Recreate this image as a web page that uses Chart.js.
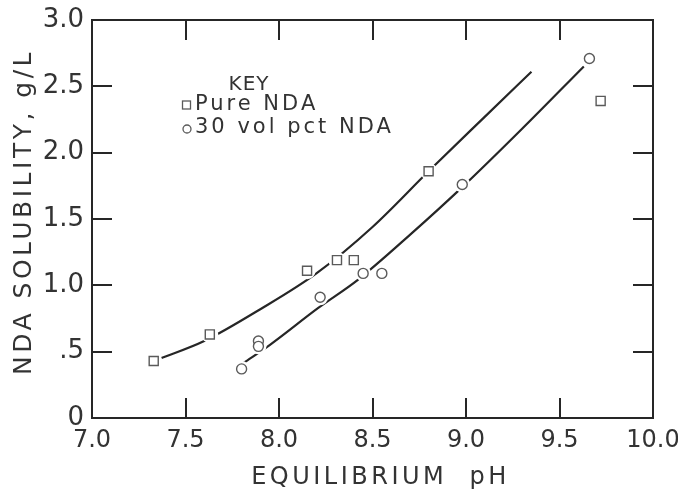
<!DOCTYPE html>
<html>
<head>
<meta charset="utf-8">
<script src="https://cdn.jsdelivr.net/npm/chart.js@4/dist/chart.umd.min.js"></script>
<style>
  html, body { margin: 0; padding: 0; background: #ffffff; }
  #wrap { width: 678px; height: 492px; }
</style>
</head>
<body>
<div id="wrap"><canvas id="c" width="678" height="492"></canvas></div>
<script>
// ---- data ----
const xTickLabels = ['7.0', '7.5', '8.0', '8.5', '9.0', '9.5', '10.0'];
const yTickLabels = ['0', '.5', '1.0', '1.5', '2.0', '2.5', '3.0'];

const pureX = [7.33, 7.63, 8.15, 8.31, 8.40, 8.80, 9.72];
const pureY = [0.43, 0.63, 1.11, 1.19, 1.19, 1.86, 2.39];

const vol30X = [7.80, 7.89, 7.89, 8.22, 8.45, 8.55, 8.98, 9.66];
const vol30Y = [0.37, 0.58, 0.54, 0.91, 1.09, 1.09, 1.76, 2.71];

const pureCurveX = [7.36, 7.60, 7.90, 8.20, 8.50, 8.80, 9.10, 9.35];
const pureCurveY = [0.445, 0.58, 0.82, 1.09, 1.44, 1.86, 2.27, 2.61];

const vol30CurveX = [7.81, 7.95, 8.21, 8.42, 8.70, 8.98, 9.30, 9.63];
const vol30CurveY = [0.415, 0.55, 0.83, 1.04, 1.38, 1.74, 2.18, 2.65];

const legendTitle = 'KEY';
const seriesNames = ['Pure NDA', '30 vol pct NDA'];
const xTitle = 'EQUILIBRIUM  pH';
const yTitle = 'NDA SOLUBILITY, g/L';

// ---- helpers ----
const pts = (xs, ys) => xs.map((x, i) => ({ x: x, y: ys[i] }));
const FONT = '"DejaVu Sans", "Liberation Sans", sans-serif';
const INK = '#262626';
const MARK = '#5a5a5a';

function spacedTitle(scale, spacing, dx, dy) {
  if (!scale._spacedTitle) {
    const orig = Chart.Scale.prototype.drawTitle;
    scale.drawTitle = function () {
      const ctx = this.ctx;
      ctx.save();
      ctx.letterSpacing = spacing;
      ctx.translate(dx, dy);
      orig.call(this);
      ctx.restore();
    };
    scale._spacedTitle = true;
  }
}

function seg(ctx, x1, y1, x2, y2) {
  ctx.beginPath();
  ctx.moveTo(x1, y1);
  ctx.lineTo(x2, y2);
  ctx.stroke();
}

// frame + inward ticks, key
const framePlugin = {
  id: 'frame',
  afterDraw(chart) {
    const ctx = chart.ctx;
    const a = chart.chartArea;
    const xs = chart.scales.x, ys = chart.scales.y;
    const TICK_LEN = 20;
    ctx.save();
    ctx.setLineDash([]);
    ctx.lineCap = 'butt';
    ctx.strokeStyle = INK;
    ctx.lineWidth = 2;
    ctx.strokeRect(a.left, a.top, a.right - a.left, a.bottom - a.top);
    for (let i = 1; i < xTickLabels.length - 1; i++) {
      const px = Math.round(xs.getPixelForValue(7 + i * 0.5));
      seg(ctx, px, a.bottom, px, a.bottom - TICK_LEN);
      seg(ctx, px, a.top, px, a.top + TICK_LEN);
    }
    for (let i = 1; i < yTickLabels.length - 1; i++) {
      const py = Math.round(ys.getPixelForValue(i * 0.5));
      seg(ctx, a.left, py, a.left + TICK_LEN, py);
      seg(ctx, a.right, py, a.right - TICK_LEN, py);
    }

    ctx.fillStyle = '#333';
    ctx.textBaseline = 'middle';
    ctx.textAlign = 'center';
    ctx.font = '20px ' + FONT;
    ctx.letterSpacing = '1px';
    ctx.fillText(legendTitle, 249, 85);
    ctx.textAlign = 'left';
    ctx.font = '21px ' + FONT;
    ctx.letterSpacing = '3px';
    ctx.fillText(seriesNames[0], 195, 105);
    ctx.fillText(seriesNames[1], 195, 128);
    ctx.letterSpacing = '0px';
    ctx.strokeStyle = MARK;
    ctx.lineWidth = 1.3;
    ctx.strokeRect(182.5, 101, 8, 8);
    ctx.beginPath();
    ctx.arc(187, 129, 4, 0, Math.PI * 2);
    ctx.stroke();
    ctx.restore();
  }
};

new Chart(document.getElementById('c'), {
  type: 'scatter',
  data: {
    datasets: [
      { label: seriesNames[0], data: pts(pureX, pureY), order: 0,
        pointStyle: 'rect', pointRadius: 6.4, pointBorderWidth: 1.4,
        pointBorderColor: MARK, pointBackgroundColor: '#ffffff', showLine: false },
      { label: seriesNames[1], data: pts(vol30X, vol30Y), order: 0,
        pointStyle: 'circle', pointRadius: 5, pointBorderWidth: 1.4,
        pointBorderColor: MARK, pointBackgroundColor: '#ffffff', showLine: false },
      { label: 'gap1', data: pts(pureX, pureY), order: 1,
        pointStyle: 'circle', pointRadius: 8.5, pointBorderWidth: 0,
        pointBorderColor: '#ffffff', pointBackgroundColor: '#ffffff', showLine: false },
      { label: 'gap2', data: pts(vol30X, vol30Y), order: 1,
        pointStyle: 'circle', pointRadius: 8, pointBorderWidth: 0,
        pointBorderColor: '#ffffff', pointBackgroundColor: '#ffffff', showLine: false },
      { label: 'curve1', data: pts(pureCurveX, pureCurveY), order: 2,
        showLine: true, pointRadius: 0, borderColor: INK, borderWidth: 2.2,
        cubicInterpolationMode: 'monotone', fill: false },
      { label: 'curve2', data: pts(vol30CurveX, vol30CurveY), order: 2,
        showLine: true, pointRadius: 0, borderColor: INK, borderWidth: 2.2,
        cubicInterpolationMode: 'monotone', fill: false }
    ]
  },
  options: {
    responsive: false,
    animation: false,
    events: [],
    layout: { padding: { top: 20, right: 25, left: 0, bottom: 0 } },
    plugins: { legend: { display: false }, tooltip: { enabled: false } },
    scales: {
      x: {
        type: 'linear', min: 7, max: 10,
        afterFit(s) { s.height = 74; s.paddingLeft = 0; s.paddingRight = 0; spacedTitle(s, '3.5px', 8, 0); },
        ticks: { stepSize: 0.5, padding: 8, color: '#333',
          font: { family: FONT, size: 24 },
          callback: (v) => xTickLabels[Math.round((v - 7) / 0.5)] },
        grid: { display: false, drawTicks: false },
        border: { display: false },
        title: { display: true, text: xTitle, color: '#333',
          font: { family: FONT, size: 24 }, padding: { top: 0, bottom: 0 } }
      },
      y: {
        type: 'linear', min: 0, max: 3,
        afterFit(s) { s.width = 92; s.paddingTop = 0; s.paddingBottom = 0; spacedTitle(s, '3.5px', 0, -7); },
        ticks: { stepSize: 0.5, padding: 8, color: '#333',
          font: { family: FONT, size: 26 },
          callback: (v) => yTickLabels[Math.round(v / 0.5)] },
        grid: { display: false, drawTicks: false },
        border: { display: false },
        title: { display: true, text: yTitle, color: '#333',
          font: { family: FONT, size: 25 }, padding: { top: 9, bottom: 0 } }
      }
    }
  },
  plugins: [framePlugin]
});
</script>
</body>
</html>
